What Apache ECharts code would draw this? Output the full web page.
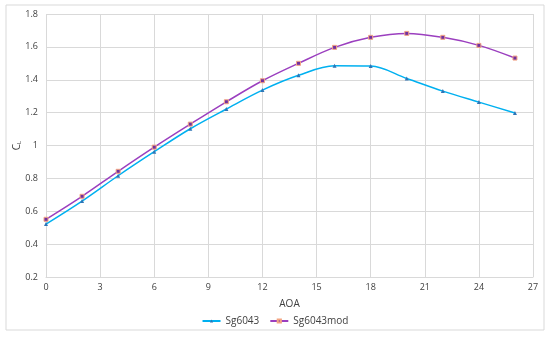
<!DOCTYPE html>
<html><head><meta charset="utf-8">
<script src="https://cdn.jsdelivr.net/npm/echarts@6/dist/echarts.min.js"></script>
<style>html,body{margin:0;padding:0;background:#fff}#c{width:550px;height:341px}</style>
</head><body><div id="c"></div>
<script>
const aoa = [0,2,4,6,8,10,12,14,16,18,20,22,24,26];
const sg6043 = [0.522,0.662,0.816,0.962,1.102,1.222,1.337,1.427,1.485,1.483,1.408,1.331,1.264,1.198];
const sg6043mod = [0.551,0.691,0.843,0.99,1.13,1.266,1.394,1.50,1.597,1.658,1.682,1.658,1.609,1.532];
const xTicks = [0,3,6,9,12,15,18,21,24,27];
const yTicks = [0.2,0.4,0.6,0.8,1,1.2,1.4,1.6,1.8];

const chart = echarts.init(document.getElementById('c'), null, {renderer:'canvas'});
const font = '"Open Sans", sans-serif';
chart.setOption({
  animation:false,
  backgroundColor:'#fff',
  graphic:[{type:'rect',shape:{x:6,y:5,width:538,height:325},style:{fill:'none',stroke:'#d9d9d9',lineWidth:1},silent:true}],
  grid:{left:46,right:17,top:14,bottom:64,containLabel:false,outerBoundsMode:'none'},
  xAxis:{type:'value',min:0,max:27,interval:3,
    name:'AOA',nameLocation:'middle',nameGap:22,nameMoveOverlap:false,
    nameTextStyle:{color:'#404040',fontSize:10,fontFamily:font},
    axisLine:{show:true,lineStyle:{color:'#d9d9d9'}},axisTick:{show:false},
    axisLabel:{color:'#404040',fontSize:9,fontFamily:font,margin:6,
      formatter:v=>xTicks.includes(v)?String(v):''},
    splitLine:{show:true,lineStyle:{color:'#d9d9d9'}}},
  yAxis:{type:'value',min:0.2,max:1.8,interval:0.2,
    name:'{c|C}{s|L}',nameLocation:'middle',nameGap:24,nameRotate:90,nameMoveOverlap:false,
    nameTextStyle:{rich:{c:{color:'#404040',fontSize:10,fontFamily:font},s:{color:'#404040',fontSize:6,fontFamily:font,verticalAlign:'bottom',padding:[4,0,0,0]}}},
    axisLine:{show:false},axisTick:{show:false},
    axisLabel:{color:'#404040',fontSize:9,fontFamily:font,margin:8,
      formatter:v=>{const r=Math.round(v*10)/10; return yTicks.some(t=>Math.abs(t-r)<1e-6)?String(r):'';}},
    splitLine:{show:true,lineStyle:{color:'#d9d9d9'}}},
  legend:{bottom:10,left:'center',itemWidth:18,itemHeight:4,itemGap:10,
    textStyle:{color:'#404040',fontSize:10,fontFamily:font},
    data:['Sg6043','Sg6043mod']},
  series:[
    {name:'Sg6043',type:'line',smooth:0.35,data:aoa.map((x,i)=>[x,sg6043[i]]),
      symbol:'triangle',symbolSize:4,
      lineStyle:{color:'#00b0f0',width:1.5},
      itemStyle:{color:'#2e75b6',borderColor:'#2e75b6',borderWidth:0}},
    {name:'Sg6043mod',type:'line',smooth:0.35,data:aoa.map((x,i)=>[x,sg6043mod[i]]),
      symbol:'rect',symbolSize:4,
      lineStyle:{color:'#9b3fbf',width:1.5},
      itemStyle:{color:'#7030a0',borderColor:'#f4a582',borderWidth:1}}
  ]
});
</script></body></html>
